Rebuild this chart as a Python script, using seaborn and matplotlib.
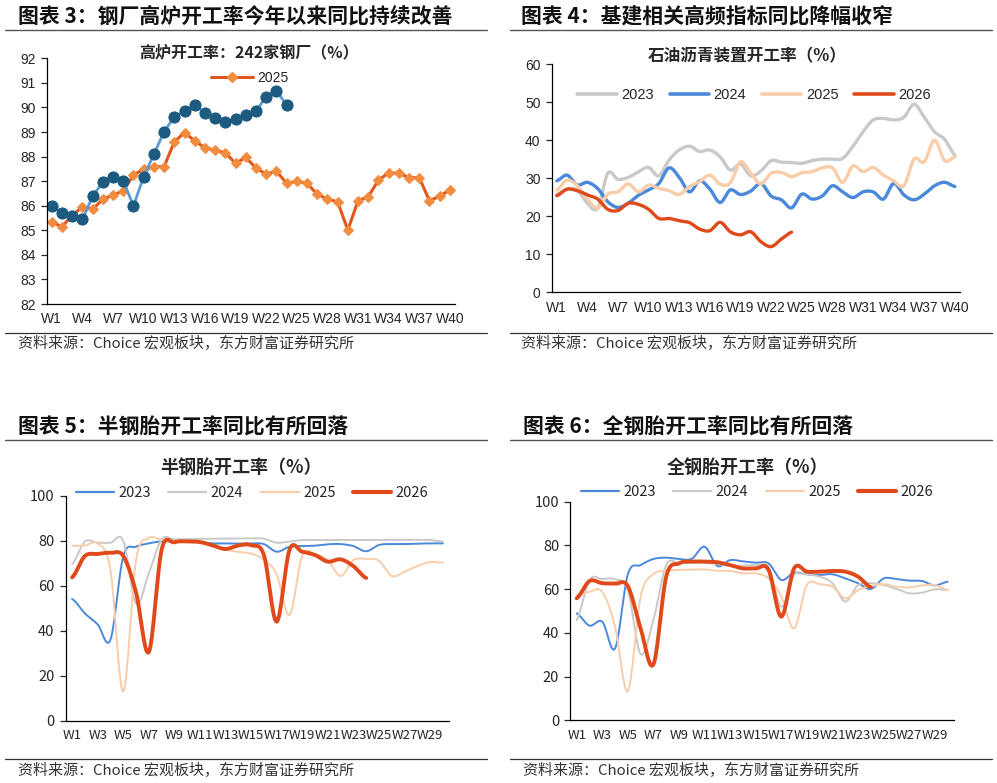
import numpy as np
import pandas as pd
import matplotlib
matplotlib.use('Agg')
import matplotlib.pyplot as plt
from matplotlib.lines import Line2D
import seaborn as sns

# ---- data ----
weeks40 = [f'W{i}' for i in range(1, 41)]
weeks30 = [f'W{i}' for i in range(1, 31)]

furnace_2025 = [85.32, 85.15, 85.6, 85.96, 85.85, 86.27, 86.43, 86.61, 87.25, 87.49,
                87.59, 87.59, 88.6, 88.98, 88.64, 88.36, 88.26, 88.16, 87.72, 87.97,
                87.53, 87.29, 87.41, 86.91, 86.99, 86.91, 86.47, 86.27, 86.16, 85.01,
                86.2, 86.37, 87.04, 87.34, 87.32, 87.14, 87.14, 86.2, 86.39, 86.64]
furnace_2026 = [85.99, 85.72, 85.58, 85.44, 86.39, 86.96, 87.18, 87.02, 85.99, 87.18,
                88.1, 89.01, 89.62, 89.85, 90.1, 89.77, 89.59, 89.41, 89.52, 89.68,
                89.86, 90.43, 90.68, 90.1]

asphalt_2023 = [25.8, 27.1, 26.9, 23.4, 22.1, 31.3, 29.7, 30.2, 31.7, 32.8,
                30.6, 34.8, 37.4, 38.4, 37.0, 37.4, 35.6, 32.1, 33.7, 30.6,
                31.9, 34.6, 34.2, 34.1, 33.9, 34.6, 35.0, 35.0, 35.2, 38.3,
                42.2, 45.3, 45.7, 45.3, 46.0, 49.4, 46.0, 42.2, 40.2, 36.1]
asphalt_2024 = [29.3, 30.8, 28.2, 28.9, 27.3, 23.8, 22.3, 23.4, 25.5, 26.9,
                28.6, 32.7, 30.2, 26.4, 29.3, 27.1, 23.6, 26.9, 25.7, 26.6,
                28.6, 25.3, 24.3, 22.2, 25.8, 24.5, 25.3, 28.0, 26.4, 24.9,
                26.4, 26.4, 24.5, 28.6, 25.6, 24.3, 25.8, 28.0, 28.9, 27.8]
asphalt_2025 = [26.9, 29.5, 28.0, 24.5, 22.1, 25.8, 26.4, 28.5, 26.4, 28.2,
                27.3, 26.7, 25.7, 27.8, 29.1, 30.8, 28.4, 28.8, 34.3, 31.3,
                28.5, 31.3, 31.5, 30.4, 31.4, 31.7, 32.7, 32.7, 28.9, 33.2,
                31.7, 32.8, 30.8, 29.3, 28.0, 35.0, 34.3, 40.0, 34.6, 35.6]
asphalt_2026 = [25.4, 27.1, 26.7, 25.6, 24.5, 21.8, 21.5, 23.4, 23.1, 21.8,
                19.4, 19.4, 18.8, 18.3, 16.6, 16.2, 18.4, 15.9, 15.1, 15.9,
                13.3, 12.0, 14.0, 15.8]

semi_2023 = [54.1, 47.7, 42.8, 36.0, 73.0, 77.3, 78.8, 79.7, 79.6, 79.4,
             79.4, 78.8, 78.8, 78.7, 78.8, 78.5, 75.1, 77.3, 77.6, 77.8,
             78.4, 78.5, 77.6, 75.3, 78.1, 78.5, 78.5, 78.7, 78.8, 78.8]
semi_2024 = [69.6, 79.6, 79.1, 79.1, 79.9, 52.0, 65.5, 80.6, 80.6, 80.7,
             80.8, 80.9, 80.9, 81.0, 81.0, 80.9, 79.1, 79.6, 80.3, 80.3,
             80.3, 80.3, 80.3, 80.3, 80.3, 80.3, 80.3, 80.3, 80.3, 79.6]
semi_2025 = [77.8, 77.8, 78.8, 67.0, 12.9, 71.4, 81.2, 80.3, 80.0, 79.6,
             79.0, 78.0, 76.1, 75.0, 74.3, 71.5, 65.0, 47.0, 73.2, 74.1,
             71.4, 64.3, 71.4, 71.9, 71.1, 64.3, 66.2, 68.7, 70.5, 70.2]
semi_2026 = [63.7, 73.2, 74.1, 74.6, 73.2, 57.0, 30.5, 75.9, 79.3, 79.7,
             79.4, 77.9, 76.3, 77.9, 78.0, 73.6, 44.0, 75.9, 75.1, 73.6,
             70.7, 71.7, 68.7, 63.4]

all_2023 = [48.9, 43.3, 45.1, 32.9, 66.8, 71.0, 73.8, 74.4, 73.8, 73.9,
            79.4, 70.6, 73.3, 72.7, 72.1, 71.8, 64.2, 67.5, 66.8, 66.5,
            66.8, 64.9, 62.7, 60.1, 64.9, 64.6, 63.9, 63.7, 61.7, 63.4]
all_2024 = [45.9, 64.2, 64.6, 64.5, 59.6, 30.3, 45.9, 71.0, 71.8, 72.0,
            72.0, 71.5, 70.6, 70.8, 71.0, 70.0, 52.0, 66.5, 66.8, 65.7,
            62.7, 54.3, 61.9, 62.7, 61.9, 60.1, 58.1, 58.4, 59.9, 59.6]
all_2025 = [57.3, 58.8, 58.8, 42.8, 13.4, 56.6, 66.9, 68.3, 68.8, 68.9,
            69.0, 68.4, 68.3, 67.2, 67.2, 64.9, 56.6, 42.1, 61.9, 62.2,
            61.1, 55.8, 59.6, 61.4, 62.3, 61.1, 60.8, 61.7, 61.9, 59.6]
all_2026 = [55.8, 63.7, 62.7, 62.5, 61.4, 42.0, 25.6, 65.7, 71.8, 72.6,
            72.6, 72.3, 71.0, 69.5, 69.5, 68.8, 47.4, 69.5, 68.0, 68.0,
            68.3, 68.0, 65.7, 60.8]

source = '资料来源：Choice 宏观板块，东方财富证券研究所'

C_GRAY = '#C9C9C9'
C_BLUE = '#4A89DA'
C_PEACH = '#F9CDAA'
C_RED = '#E04A1B'

sns.set_style('white')
plt.rcParams['font.family'] = ['Noto Sans CJK SC', 'DejaVu Sans']
plt.rcParams['axes.unicode_minus'] = False

W, H = 997, 783
fig = plt.figure(figsize=(W / 100, H / 100), dpi=100)


def fx(px):
    return px / W


def fy(py):
    return 1 - py / H


def smooth(vals, n=16):
    # Catmull-Rom curve through the points, like Excel's smoothed line
    y = np.asarray(vals, dtype=float)
    p = np.concatenate([[y[0]], y, [y[-1]]])
    xs, ys = [], []
    t = np.linspace(0, 1, n, endpoint=False)
    for i in range(len(y) - 1):
        p0, p1, p2, p3 = p[i], p[i + 1], p[i + 2], p[i + 3]
        seg = 0.5 * ((2 * p1) + (-p0 + p2) * t + (2 * p0 - 5 * p1 + 4 * p2 - p3) * t ** 2
                     + (-p0 + 3 * p1 - 3 * p2 + p3) * t ** 3)
        xs.append(i + t)
        ys.append(seg)
    xs.append([len(y) - 1])
    ys.append([y[-1]])
    return np.concatenate(xs), np.concatenate(ys)


def make_axes(box):
    l, r, b, t = box
    ax = fig.add_axes([fx(l), fy(b), fx(r) - fx(l), fy(t) - fy(b)])
    for s in ['top', 'right']:
        ax.spines[s].set_visible(False)
    for s in ['left', 'bottom']:
        ax.spines[s].set_color('#000000')
        ax.spines[s].set_linewidth(0.9)
    return ax


def style_x(ax, labels, step, font, size):
    n = len(labels)
    ax.set_xlim(-0.5, n - 0.5)
    ax.set_xticks(range(0, n, step))
    ax.set_xticklabels(labels[::step], fontsize=size, family=font)
    ax.set_xticks(np.arange(-0.5, n, 1), minor=True)
    ax.tick_params(axis='x', which='major', length=0, pad=6)
    ax.tick_params(axis='x', which='minor', length=4, width=0.9, direction='out')


def style_y(ax, lo, hi, step, font, size):
    ax.set_ylim(lo, hi)
    ax.set_yticks(np.arange(lo, hi + 0.01, step))
    ax.set_yticklabels([f'{v:g}' for v in np.arange(lo, hi + 0.01, step)],
                       fontsize=size, family=font)
    ax.tick_params(axis='y', length=4, width=0.9, direction='out', left=True, pad=4)


def frame(x0, x1, title, title_y, line_top, line_bot, src_y, tx):
    fig.text(fx(tx), fy(title_y), title, fontsize=15, fontweight='bold',
             ha='left', va='center', color='#111111')
    fig.add_artist(Line2D([fx(x0), fx(x1)], [fy(line_top)] * 2, color='#555555', lw=1.0))
    fig.add_artist(Line2D([fx(x0), fx(x1)], [fy(line_bot)] * 2, color='#333333', lw=0.9))
    fig.text(fx(tx), fy(src_y), source, fontsize=10.8, ha='left', va='center', color='#333333')


def draw(ax, vals, color, lw, smooth_it=True):
    if smooth_it:
        xs, ys = smooth(vals)
    else:
        xs, ys = np.arange(len(vals)), np.asarray(vals)
    df = pd.DataFrame({'x': xs, 'y': ys})
    sns.lineplot(data=df, x='x', y='y', ax=ax, color=color, lw=lw, sort=False,
                 estimator=None, legend=False)
    ax.set_xlabel('')
    ax.set_ylabel('')


def legend4(ax, colors, widths, cx, cy, font, size, hl=3.0, cs=1.4):
    handles = [Line2D([], [], color=c, lw=w) for c, w in zip(colors, widths)]
    ax.legend(handles, ['2023', '2024', '2025', '2026'], loc='center', ncol=4,
              bbox_to_anchor=(fx(cx), fy(cy)), bbox_transform=fig.transFigure,
              frameon=False, handlelength=hl, handletextpad=0.3, columnspacing=cs,
              prop={'family': font, 'size': size})


# ---- panel 1: blast furnace ----
frame(5, 487, '图表 3：钢厂高炉开工率今年以来同比持续改善', 16, 30, 333, 343, 18)
ax1 = make_axes((46.7, 455, 304, 58.3))
x40 = np.arange(40)
sns.lineplot(x=x40, y=furnace_2025, ax=ax1, color='#E2571E', lw=2.2, marker='D',
             markersize=5, markerfacecolor='#F28C3E', markeredgecolor='#F28C3E',
             estimator=None, legend=False)
sns.lineplot(x=np.arange(len(furnace_2026)), y=furnace_2026, ax=ax1, color='#5B9BD5',
             lw=2.0, marker='o', markersize=8, markerfacecolor='#1C5A80',
             markeredgecolor='#1C5A80', estimator=None, legend=False)
style_x(ax1, weeks40, 3, 'Liberation Sans', 10)
style_y(ax1, 82, 92, 1, 'Liberation Sans', 10)
fig.text(fx(249), fy(52), '高炉开工率：242家钢厂（%）', fontsize=11.5, fontweight='bold',
         ha='center', va='center')
h = [Line2D([], [], color='#E2571E', lw=2.2, marker='D', markersize=5,
            markerfacecolor='#F28C3E', markeredgecolor='#F28C3E')]
ax1.legend(h, ['2025'], loc='center', bbox_to_anchor=(fx(250), fy(78)),
           bbox_transform=fig.transFigure, frameon=False, handlelength=3.0,
           handletextpad=0.3, prop={'family': 'Liberation Sans', 'size': 10})

# ---- panel 2: asphalt ----
frame(510, 992, '图表 4：基建相关高频指标同比降幅收窄', 16, 30, 333, 343, 521)
ax2 = make_axes((551.7, 960, 292.3, 64))
draw(ax2, asphalt_2023, C_GRAY, 2.4)
draw(ax2, asphalt_2024, C_BLUE, 2.4)
draw(ax2, asphalt_2025, C_PEACH, 2.4)
draw(ax2, asphalt_2026, C_RED, 2.4)
style_x(ax2, weeks40, 3, 'Liberation Sans', 10)
style_y(ax2, 0, 60, 10, 'Liberation Sans', 10)
fig.text(fx(747), fy(56), '石油沥青装置开工率（%）', fontsize=12, fontweight='bold',
         ha='center', va='center')
legend4(ax2, [C_GRAY, C_BLUE, C_PEACH, C_RED], [2.6] * 4, 754, 95, 'Liberation Sans', 10.5,
        hl=2.7, cs=1.1)

# ---- panel 5: semi-steel tyres ----
frame(5, 487, '图表 5：半钢胎开工率同比有所回落', 427, 440, 759, 770, 18)
ax5 = make_axes((65.7, 449.3, 720.7, 495.7))
draw(ax5, semi_2023, C_BLUE, 1.4)
draw(ax5, semi_2024, C_GRAY, 1.4)
draw(ax5, semi_2025, C_PEACH, 1.4)
draw(ax5, semi_2026, C_RED, 2.8)
style_x(ax5, weeks30, 2, 'Noto Sans CJK SC', 9.5)
style_y(ax5, 0, 100, 20, 'Noto Sans CJK SC', 10.5)
fig.text(fx(241), fy(468), '半钢胎开工率（%）', fontsize=13, fontweight='bold',
         ha='center', va='center')
legend4(ax5, [C_BLUE, C_GRAY, C_PEACH, C_RED], [1.6, 1.6, 1.6, 3.0], 252, 493,
        'Noto Sans CJK SC', 10.5, hl=2.6, cs=1.2)

# ---- panel 6: all-steel tyres ----
frame(510, 992, '图表 6：全钢胎开工率同比有所回落', 427, 440, 759, 770, 523)
ax6 = make_axes((570.3, 954, 720.3, 501.7))
draw(ax6, all_2023, C_BLUE, 1.4)
draw(ax6, all_2024, C_GRAY, 1.4)
draw(ax6, all_2025, C_PEACH, 1.4)
draw(ax6, all_2026, C_RED, 2.8)
style_x(ax6, weeks30, 2, 'Noto Sans CJK SC', 9.5)
style_y(ax6, 0, 100, 20, 'Noto Sans CJK SC', 10.5)
fig.text(fx(747), fy(468), '全钢胎开工率（%）', fontsize=13, fontweight='bold',
         ha='center', va='center')
legend4(ax6, [C_BLUE, C_GRAY, C_PEACH, C_RED], [1.6, 1.6, 1.6, 3.0], 757, 492,
        'Noto Sans CJK SC', 10.5, hl=2.6, cs=1.2)

fig.savefig('out.png', dpi=100)
